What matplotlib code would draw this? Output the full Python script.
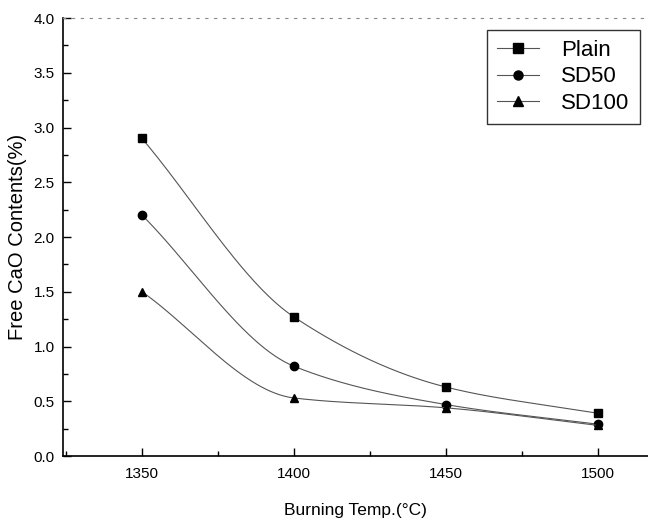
import numpy as np
import matplotlib
matplotlib.use('Agg')
import matplotlib.pyplot as plt
from matplotlib.ticker import MultipleLocator

plt.rcParams['font.family'] = ['Liberation Sans', 'DejaVu Sans']

temps = [1350, 1400, 1450, 1500]
plain = [2.90, 1.27, 0.63, 0.39]
sd50 = [2.20, 0.82, 0.47, 0.29]
sd100 = [1.50, 0.53, 0.44, 0.28]
names = ['Plain', 'SD50', 'SD100']
markers = ['s', 'o', '^']


def smooth_curve(x, y, n=200):
    # monotone cubic (Fritsch-Carlson) through the points, only for the drawn line
    x = np.asarray(x, float); y = np.asarray(y, float)
    h = np.diff(x); d = np.diff(y) / h
    m = np.zeros_like(y)
    m[0], m[-1] = d[0], d[-1]
    for i in range(1, len(x) - 1):
        if d[i - 1] * d[i] > 0:
            w1 = 2 * h[i] + h[i - 1]; w2 = h[i] + 2 * h[i - 1]
            m[i] = (w1 + w2) / (w1 / d[i - 1] + w2 / d[i])
    xs = np.linspace(x[0], x[-1], n)
    k = np.clip(np.searchsorted(x, xs) - 1, 0, len(x) - 2)
    t = (xs - x[k]) / h[k]
    h00 = 2 * t**3 - 3 * t**2 + 1; h10 = t**3 - 2 * t**2 + t
    h01 = -2 * t**3 + 3 * t**2; h11 = t**3 - t**2
    ys = h00 * y[k] + h10 * h[k] * m[k] + h01 * y[k + 1] + h11 * h[k] * m[k + 1]
    return xs, ys


fig = plt.figure(figsize=(6.48, 5.27), dpi=100)
ax = fig.add_axes([0.0972, 0.1347, 0.9028, 0.8311])

for vals, name, mk in zip([plain, sd50, sd100], names, markers):
    xs, ys = smooth_curve(temps, vals)
    ax.plot(xs, ys, color='#555555', lw=0.8)
    ax.plot(temps, vals, ls='none', marker=mk, color='black', ms=6)
    ax.plot([], [], color='#555555', lw=0.8, marker=mk, ms=6.5, mfc='black', mec='black', label=name)

ax.set_xlim(1324, 1516.5)
ax.set_ylim(0, 4.0)
ax.xaxis.set_major_locator(MultipleLocator(50))
ax.xaxis.set_minor_locator(MultipleLocator(25))
ax.yaxis.set_major_locator(MultipleLocator(0.5))
ax.yaxis.set_minor_locator(MultipleLocator(0.25))
ax.yaxis.set_major_formatter(plt.FormatStrFormatter('%.1f'))
ax.tick_params(which='both', direction='in', labelsize=11, width=1)
ax.tick_params(which='major', length=6, pad=6)
ax.tick_params(which='minor', length=3.5)
ax.tick_params(axis='x', which='major', pad=8)

ax.spines['right'].set_visible(False)
ax.spines['top'].set_linestyle((0, (2, 6)))
ax.spines['top'].set_color('#888888')
ax.spines['left'].set_linewidth(1.2)
ax.spines['bottom'].set_linewidth(1.2)

ax.set_xlabel('Burning Temp.(°C)', fontsize=12.5, labelpad=16)
ax.set_ylabel('Free CaO Contents(%)', fontsize=14.5, labelpad=5)

leg = ax.legend(loc='upper left', bbox_to_anchor=(0.7248, 0.973), fontsize=16,
                frameon=True, fancybox=False, edgecolor='black', handlelength=1.9,
                handletextpad=1.0, borderpad=0.45, labelspacing=0.25, borderaxespad=0)
leg.get_frame().set_linewidth(1.0)

fig.savefig('out.png', dpi=100)
